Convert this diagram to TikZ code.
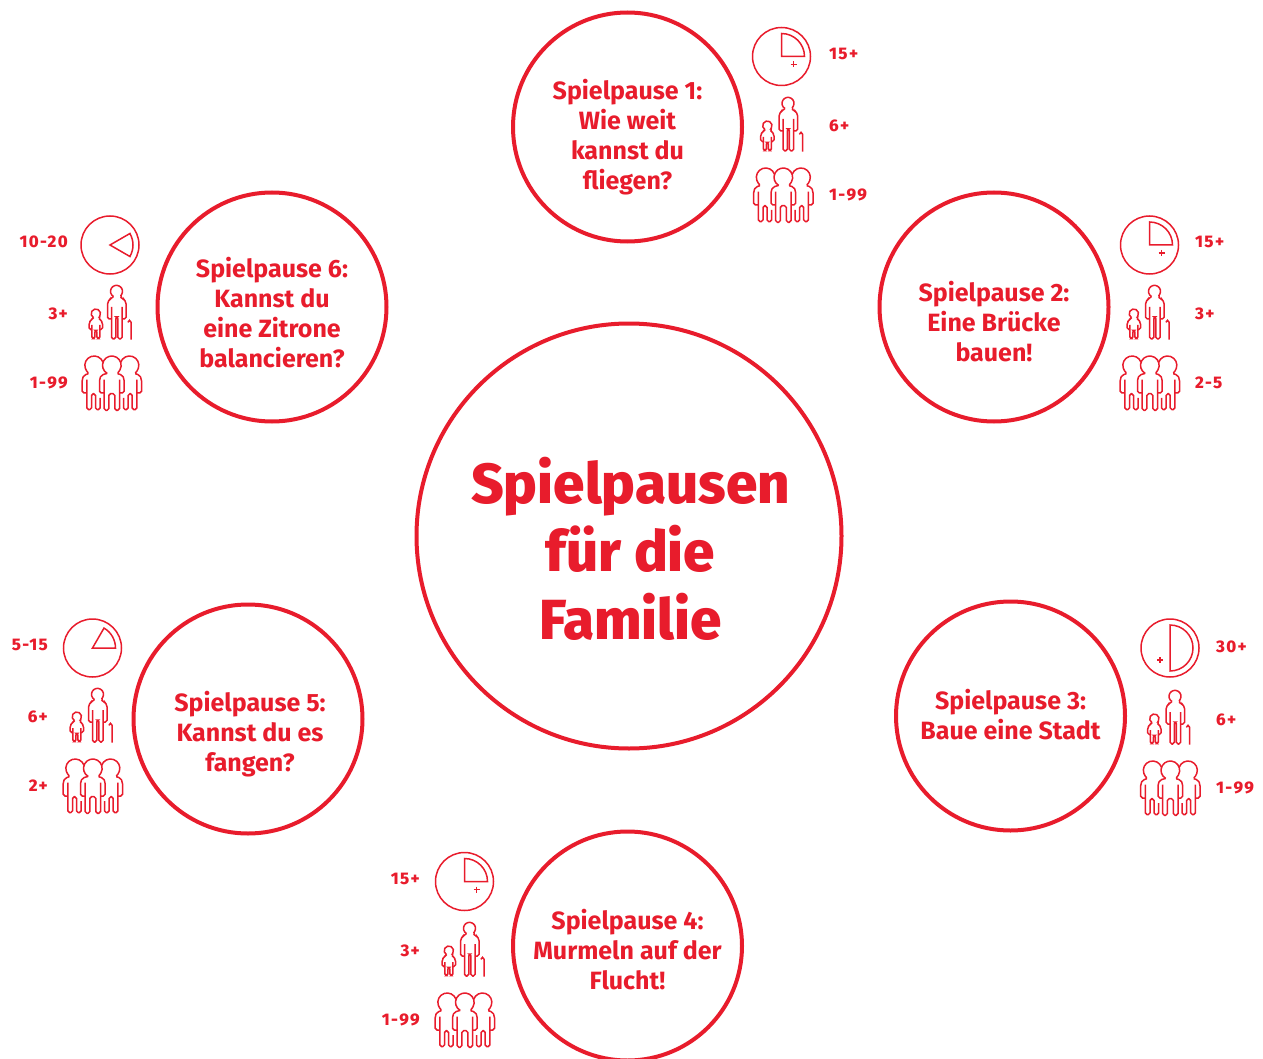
\documentclass[tikz,border=0pt]{standalone}
\usepackage{fontspec}
\setmainfont{Fira Sans}
\newfontfamily\titlefont{Fira Sans}[UprightFont=* ExtraBold]
\newfontfamily\bodyfont{Fira Sans}[UprightFont=* Bold]
\newfontfamily\labfont{Fira Sans}[UprightFont=* ExtraBold,LetterSpace=8]
\definecolor{rd}{RGB}{232,28,44}
\newcommand{\kidadult}[2]{%
\begin{scope}[shift={(745+#1,15+#2)},scale=1/3,icon]
 \draw (129,265) ++(120:18) arc[start angle=120,end angle=420,radius=18]
   --(152,290)--(158,298)--(158,348)--(146,348);
 \draw (129,265) ++(120:18) --(108,290)--(102,298)--(102,348)--(114,348);
 \draw (114,312)--(114,408)--(127,408)--(127,342)--(133,342)--(133,408)--(146,408)--(146,312);
 \draw[sharp corners] (173,410)--(173,358)--(168,352)--(163,358);
 \draw (67,332) ++(120:14) arc[start angle=120,end angle=420,radius=14]--(82,352)--(87,358)--(87,380)--(79,380);
 \draw (67,332) ++(120:14) --(52,352)--(47,358)--(47,380)--(55,380);
 \draw (55,366)--(55,407)--(64,407)--(64,382)--(70,382)--(70,407)--(79,407)--(79,366);
\end{scope}}
\newcommand{\trio}[2]{%
\begin{scope}[shift={(745+#1,15+#2)},scale=1/3,icon]
 \draw (62,487) ++(341:28) arc[start angle=341,end angle=120,radius=28]--(32,516)--(26,528)--(26,570)--(40,570);
 \draw (40,530)--(40,620)--(54,620)--(54,572)--(66,572)--(66,620)--(80,620)--(80,585);
 \draw (115,487) ++(120:28) arc[start angle=120,end angle=420,radius=28]--(146,516)--(152,528)--(152,570)--(138,570);
 \draw (115,487) ++(120:28) --(84,516)--(78,528)--(78,570)--(92,570);
 \draw (92,530)--(92,622)--(106,622)--(106,572)--(124,572)--(124,622)--(138,622)--(138,530);
 \draw (168,487) ++(199:28) arc[start angle=199,end angle=420,radius=28]--(198,516)--(204,528)--(204,570)--(190,570);
 \draw (190,530)--(190,620)--(176,620)--(176,572)--(164,572)--(164,620)--(150,620)--(150,585);
\end{scope}}
\newcommand{\clockdial}[4]{%
 \draw[icon,sharp corners] (#1,#2) circle[radius=29];
 \draw[icon,sharp corners] (#1,#2) -- ++(#3:23) arc[start angle=#3,end angle=#4,radius=23] -- cycle;
}
\newcommand{\plusmark}[2]{\draw[icon,sharp corners,line width=1.8pt] (#1-3,#2)--(#1+3,#2) (#1,#2-3)--(#1,#2+3);}
\begin{document}
\begin{tikzpicture}[x=1pt,y=-1pt,
  icon/.style={draw=rd,line width=1.5pt,rounded corners=1.8pt,fill=none},
  ring/.style={circle,draw=rd,line width=4pt,inner sep=0pt,fill=white},
  small/.style={ring,minimum size=229pt},
  big/.style={ring,minimum size=425pt},
  smalltext/.style={text=rd,align=center,inner sep=0pt,font=\bodyfont\fontsize{25}{30}\selectfont},
  bigtext/.style={text=rd,align=center,inner sep=0pt,font=\titlefont\fontsize{56.5}{68}\selectfont},
  lab/.style={text=rd,inner sep=0pt,font=\labfont\fontsize{16.8}{18}\selectfont}]
\useasboundingbox (0,0) rectangle (1263,1059);
\clip (0,0) rectangle (1263,1059);
\node[big] (main) at (629,536) {};
\node[small] (s1) at (627.5,127) {};
\node[small] (s2) at (994,307) {};
\node[small] (s3) at (1010.5,716) {};
\node[small] (s4) at (627.5,946) {};
\node[small] (s5) at (248,719) {};
\node[small] (s6) at (272,307) {};
\node[bigtext] (tmain) at (630.5,549) {Spielpausen\\für die\\Familie};
\node[smalltext] (t1) at (627.5,137.5) {Spielpause 1:\\Wie weit\\kannst du\\fliegen?};
\node[smalltext] (t2) at (994,322) {Spielpause 2:\\Eine Brücke\\bauen!};
\node[smalltext] (t3) at (1010.5,715) {Spielpause 3:\\Baue eine Stadt};
\node[smalltext] (t4) at (627.5,950) {Spielpause 4:\\Murmeln auf der\\Flucht!};
\node[smalltext] (t5) at (250,734.5) {Spielpause 5:\\Kannst du es\\fangen?};
\node[smalltext] (t6) at (272,312.5) {Spielpause 6:\\Kannst du\\eine Zitrone\\balancieren?};
% group 1
\clockdial{781.5}{56.5}{0}{-90}\plusmark{793.5}{64.5}
\kidadult{0}{0}\trio{0}{0}
\node[lab,anchor=west] (a1) at (829,54) {15+};
\node[lab,anchor=west] (b1) at (829,126) {6+};
\node[lab,anchor=west] (c1) at (829,195) {1-99};
% group 2
\clockdial{1149.5}{245}{0}{-90}\plusmark{1161.5}{253}
\kidadult{366.5}{188}\trio{366.5}{188}
\node[lab,anchor=west] (a2) at (1195,242) {15+};
\node[lab,anchor=west] (b2) at (1195,314) {3+};
\node[lab,anchor=west] (c2) at (1195,383) {2-5};
% group 3
\clockdial{1170}{648}{90}{-90}\plusmark{1160}{660}
\kidadult{387}{593}\trio{387}{593}
\node[lab,anchor=west] (a3) at (1216,647) {30+};
\node[lab,anchor=west] (b3) at (1216,720) {6+};
\node[lab,anchor=west] (c3) at (1216,788) {1-99};
% group 4
\clockdial{464.5}{881.5}{0}{-90}\plusmark{476.5}{889.5}
\kidadult{-318.5}{825}\trio{-318.5}{825}
\node[lab,anchor=east] (a4) at (420,879) {15+};
\node[lab,anchor=east] (b4) at (420,951) {3+};
\node[lab,anchor=east] (c4) at (420,1020) {1-99};
% group 5
\clockdial{92.5}{648}{0}{-60}
\kidadult{-690.5}{591}\trio{-690.5}{591}
\node[lab,anchor=east] (a5) at (48,645) {5-15};
\node[lab,anchor=east] (b5) at (48,717) {6+};
\node[lab,anchor=east] (c5) at (48,786) {2+};
% group 6
\clockdial{110}{245}{-30}{30}
\kidadult{-671.5}{188}\trio{-671.5}{188}
\node[lab,anchor=east] (a6) at (68,242) {10-20};
\node[lab,anchor=east] (b6) at (68,314) {3+};
\node[lab,anchor=east] (c6) at (68,383) {1-99};
\end{tikzpicture}
\end{document}
